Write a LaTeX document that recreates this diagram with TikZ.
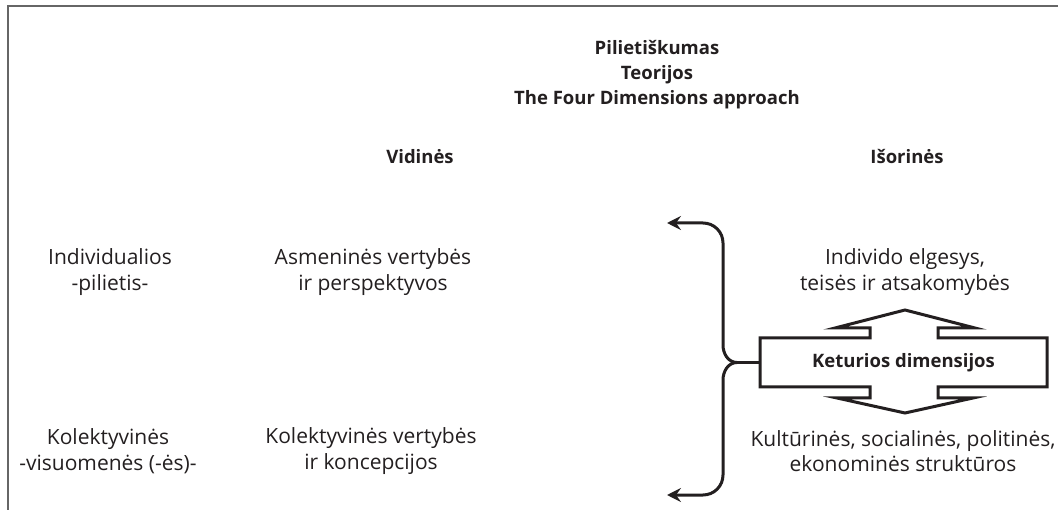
\documentclass[tikz,border=0pt]{standalone}
\usepackage{fontspec}
\setmainfont{Open Sans}
\usetikzlibrary{arrows.meta}
\definecolor{ink}{HTML}{231F20}
\definecolor{frame}{HTML}{666666}
\tikzset{
  txt/.style={align=center, font=\fontsize{21}{25.5}\selectfont, text=ink, inner sep=0pt},
  hdr/.style={align=center, font=\fontsize{18.5}{25}\selectfont\bfseries, text=ink, inner sep=0pt},
  brace/.style={draw=ink, line width=3pt, -{Stealth[length=14pt,width=14pt,inset=5pt]}},
  dimbox/.style={draw=ink, line width=3pt, line join=miter, fill=white},
}
\begin{document}
\begin{tikzpicture}[x=1pt,y=-1pt]
\useasboundingbox (0,0) rectangle (1058,510);
% frame
\draw[frame, line width=2pt] (8,510) -- (8,6) -- (1058,6);
% title
\node[hdr] (title) at (657,75) {Pilietiškumas\\Teorijos\\The Four Dimensions approach};
\node[hdr] (vid) at (420,157) {Vidinės};
\node[hdr] (isor) at (907,157) {Išorinės};
% left column
\node[txt] (ind) at (110,272) {Individualios\\-pilietis-};
\node[txt] (kol) at (108,451) {Kolektyvinės\\-visuomenės (-ės)-};
% middle column
\node[txt] (asm) at (373,272) {Asmeninės vertybės\\ir perspektyvos};
\node[txt] (kolv) at (371,451) {Kolektyvinės vertybės\\ir koncepcijos};
% right column
\node[txt] (elg) at (905,272) {Individo elgesys,\\teisės ir atsakomybės};
\node[txt] (kult) at (903,451) {Kultūrinės, socialinės, politinės,\\ekonominės struktūros};
% double arrow box
\draw[dimbox] (760,338) -- (870,338) -- (870,328) -- (835,328) -- (905,310) -- (975,328)
  -- (938,328) -- (938,338) -- (1047,338) -- (1047,387) -- (938,387) -- (938,398)
  -- (973,398) -- (905,413) -- (837,398) -- (870,398) -- (870,387) -- (760,387) -- cycle;
\node[hdr, minimum width=287pt, minimum height=49pt] (kd) at (903.5,362.5) {Keturios dimensijos};
% brace arrows
\coordinate (up) at (667,223);
\coordinate (dn) at (667,495);
\coordinate (mid) at (737,362.5);
\draw[draw=ink, line width=3pt] (kd.west) -- (mid);
\draw[brace] (mid) to[out=180,in=-90] (723,345) -- (723,243) to[out=90,in=0] (703,223) -- (up);
\draw[brace] (mid) to[out=180,in=90] (723,380) -- (723,475) to[out=-90,in=0] (703,495) -- (dn);
\end{tikzpicture}
\end{document}
